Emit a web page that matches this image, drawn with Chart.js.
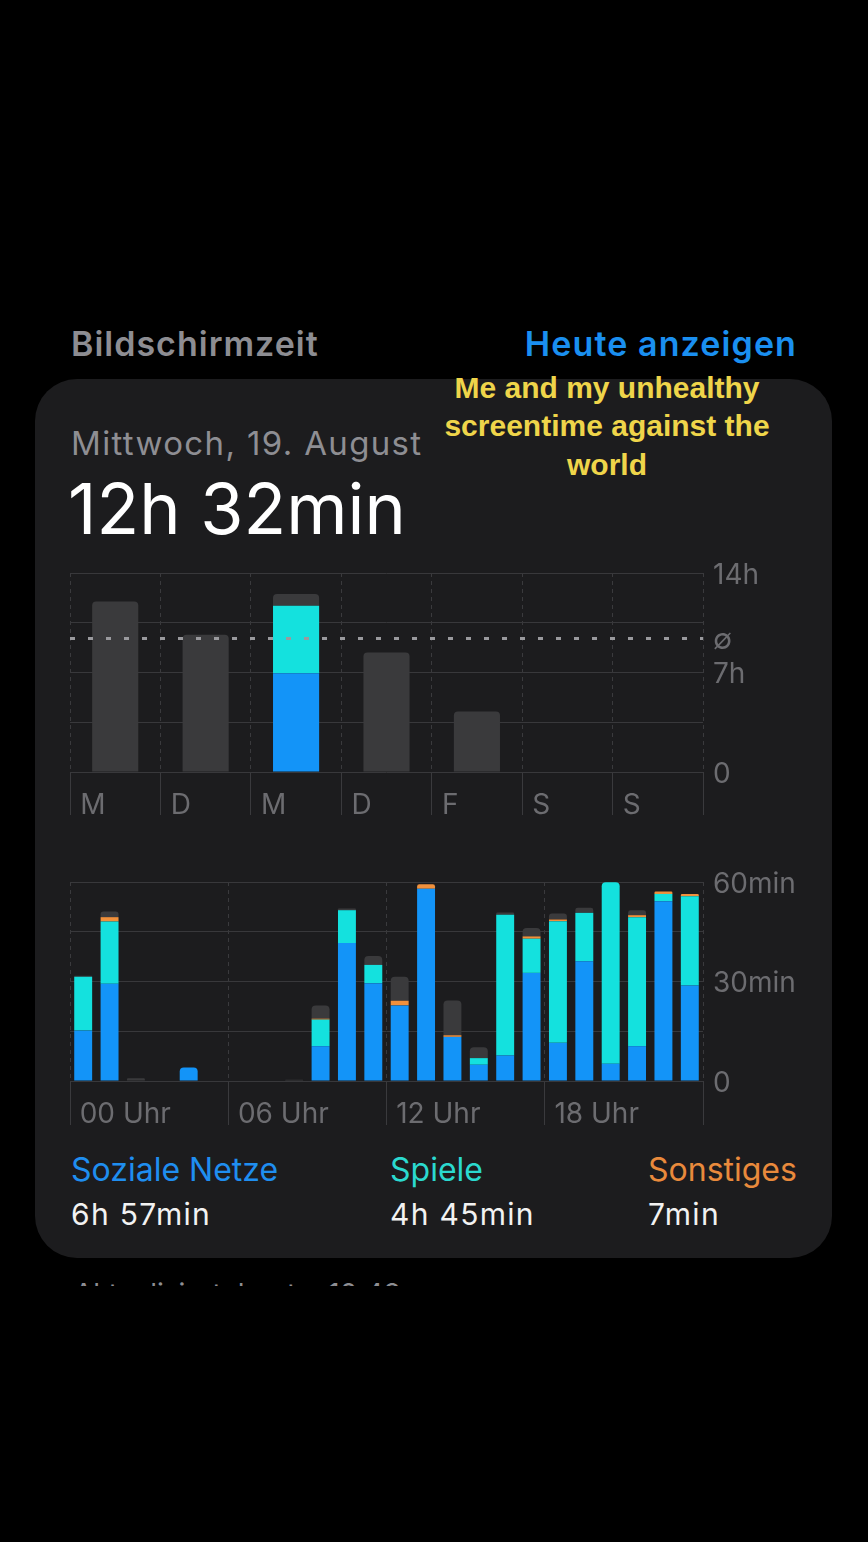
<!DOCTYPE html>
<html><head><meta charset="utf-8">
<script src="https://cdn.jsdelivr.net/npm/chart.js@4.4.1/dist/chart.umd.min.js"></script>
<style>
html,body{margin:0;padding:0;background:#000;width:868px;height:1542px;overflow:hidden;font-family:Inter,'DejaVu Sans',sans-serif;}
.t{position:absolute;white-space:nowrap;line-height:1;}
#card{position:absolute;left:35px;top:379px;width:797px;height:879px;background:#1c1c1e;border-radius:42px;}
canvas{position:absolute;}
#clip{position:absolute;left:74px;top:1280px;width:400px;height:6px;overflow:hidden;}
</style></head>
<body>
<div class="t" style="left:71px;top:326.5px;font-size:34px;font-weight:600;letter-spacing:1px;color:#8d8d92;">Bildschirmzeit</div>
<div class="t" style="right:71px;top:326.5px;font-size:34px;font-weight:600;letter-spacing:1.1px;color:#1a8ff0;">Heute anzeigen</div>
<div id="card"></div>
<div class="t" style="left:71px;top:426.5px;font-size:33px;letter-spacing:1.35px;color:#8e8e93;">Mittwoch, 19. August</div>
<div class="t" style="left:68px;top:474px;font-size:70px;color:#ffffff;">12h 32min</div>
<div class="t" style="left:407px;width:400px;text-align:center;top:369px;font-family:'Liberation Sans',Arial,sans-serif;font-weight:700;font-size:30px;line-height:38.3px;color:#efd54a;">Me and my unhealthy<br>screentime against the<br>world</div>

<canvas id="week" width="760" height="270" style="left:60px;top:555px;"></canvas>
<canvas id="day" width="760" height="270" style="left:60px;top:865px;"></canvas>

<div class="t" style="left:71px;top:1154px;font-size:32px;color:#1f8ef0;">Soziale Netze</div>
<div class="t" style="left:71px;top:1199px;font-size:30px;letter-spacing:1.3px;color:#f2f2f2;">6h 57min</div>
<div class="t" style="left:390px;top:1154px;font-size:32px;color:#2bd9cf;">Spiele</div>
<div class="t" style="left:390px;top:1199px;font-size:30px;letter-spacing:1.3px;color:#f2f2f2;">4h 45min</div>
<div class="t" style="left:648px;top:1154px;font-size:32px;color:#e98a3c;">Sonstiges</div>
<div class="t" style="left:648px;top:1199px;font-size:30px;letter-spacing:1.3px;color:#f2f2f2;">7min</div>
<div id="clip"><div class="t" style="left:0;top:0px;font-size:28px;color:#8e8e93;">Aktualisiert: heute, 10:48</div></div>

<script>
// ---- weekly data (hours) ----
const dayLabels = ['M','D','M','D','F','S','S'];
const daySocial = [0, 0, 6.95, 0, 0, 0, 0];
const dayGames  = [0, 0, 4.75, 0, 0, 0, 0];
const dayOther  = [12.0, 9.65, 0.83, 8.4, 4.25, 0, 0];
const dayAverage = 9.45;
const dayTicks = [0, 3.5, 7, 10.5, 14];
const dayTickLabels = {0:'0', 7:'7h', 14:'14h'};

// ---- hourly data (minutes), Wednesday ----
const hourLabels = ['00 Uhr','','','','','','06 Uhr','','','','','','12 Uhr','','','','','','18 Uhr','','','','',''];
const hourSocial = [15.2,29.3,0,0,4.1,0,0,0,0,10.5,41.6,29.5,22.8,58.0,13.3,4.9,7.7,32.6,11.5,36.1,5.2,10.5,54.2,28.8];
const hourGames  = [16.2,18.8,0,0,0,0,0,0,0,8.0,9.9,5.5,0,0,0,2.0,42.4,10.3,36.7,14.6,54.7,38.9,2.2,26.9];
const hourMisc   = [0,1.3,0,0,0,0,0,0,0,0.3,0,0,1.4,1.3,0.5,0,0,0.7,0.5,0,0,0.6,0.7,0.7];
const hourOther  = [0.3,1.7,0.8,0,0,0,0,0,0.4,4.0,0.5,2.7,7.2,0,10.5,3.3,0.7,2.5,1.8,1.5,0,1.5,0,0];
const hourTickLabels = {0:'0', 30:'30min', 60:'60min'};

const BLUE='#1394f8', CYAN='#14e1de', ORANGE='#f0903c', GREY='#3a3a3c';
const GRIDH='#38383b', GRIDV='#3a3a3d', LABEL='#6c6c70';
Chart.defaults.font.family = "Inter, 'DejaVu Sans', sans-serif";

function topRadius(r){
  return ctx => {
    const ds = ctx.chart.data.datasets, i = ctx.dataIndex;
    for (let k = ctx.datasetIndex + 1; k < ds.length; k++) { if (ds[k].data[i] > 0) return 0; }
    return r;
  };
}
function fixY(w){ return s => { s.width = w; s.paddingTop = 0; s.paddingBottom = 0; }; }
function fixX(h){ return s => { s.height = h; s.paddingLeft = 0; s.paddingRight = 0; }; }

const avgLinePlugin = {
  id:'avgLine',
  afterDatasetsDraw(chart){
    const {ctx, chartArea:a, scales:{y}} = chart;
    const py = Math.round(y.getPixelForValue(dayAverage)) + 0.5;
    ctx.save();
    ctx.strokeStyle = '#9a9a9e'; ctx.lineWidth = 3; ctx.setLineDash([5,13]);
    ctx.beginPath(); ctx.moveTo(a.left, py); ctx.lineTo(a.right, py); ctx.stroke();
    ctx.restore();
  }
};

new Chart(document.getElementById('week'), {
  type:'bar',
  data:{labels:dayLabels, datasets:[
    {label:'Soziale Netze', data:daySocial, backgroundColor:BLUE},
    {label:'Spiele', data:dayGames, backgroundColor:CYAN},
    {label:'Andere', data:dayOther, backgroundColor:GREY}
  ]},
  options:{
    responsive:false, animation:false, devicePixelRatio:1,
    layout:{padding:{left:10, top:18, right:0, bottom:0}},
    datasets:{bar:{barPercentage:0.51, categoryPercentage:1, borderRadius:topRadius(4), borderSkipped:'start'}},
    plugins:{legend:{display:false}, tooltip:{enabled:false}},
    scales:{
      x:{stacked:true, offset:true,
         grid:{color:GRIDV, tickLength:43, offset:true, lineWidth:1},
         border:{display:false, dash:[4,4]},
         ticks:{align:'start', labelOffset:-35, padding:-26, color:LABEL, font:{size:28}, maxRotation:0, autoSkip:false},
         afterFit:fixX(53)},
      y:{stacked:true, position:'right', min:0, max:14,
         afterBuildTicks:s=>{ s.ticks = dayTicks.concat([dayAverage]).sort((a,b)=>a-b).map(v=>({value:v})); },
         grid:{color:c=> (c.tick && c.tick.value===dayAverage) ? 'rgba(0,0,0,0)' : GRIDH, drawTicks:false},
         border:{display:false},
         ticks:{padding:10, labelOffset:2.5, color:LABEL, font:{size:28}, autoSkip:false,
                callback:v=> v===dayAverage ? '\u2205' : (dayTickLabels[v] || '')},
         afterFit:fixY(117)}
    }
  },
  plugins:[avgLinePlugin]
});

new Chart(document.getElementById('day'), {
  type:'bar',
  data:{labels:hourLabels, datasets:[
    {label:'Soziale Netze', data:hourSocial, backgroundColor:BLUE},
    {label:'Spiele', data:hourGames, backgroundColor:CYAN},
    {label:'Sonstiges', data:hourMisc, backgroundColor:ORANGE},
    {label:'Andere', data:hourOther, backgroundColor:GREY}
  ]},
  options:{
    responsive:false, animation:false, devicePixelRatio:1,
    layout:{padding:{left:10, top:17, right:0, bottom:0}},
    datasets:{bar:{barPercentage:0.68, categoryPercentage:1, borderRadius:topRadius(4), borderSkipped:'start'}},
    plugins:{legend:{display:false}, tooltip:{enabled:false}},
    scales:{
      x:{stacked:true, offset:true,
         grid:{color:c=> (c.type==='scale' || c.index % 6 === 0) ? GRIDV : 'rgba(0,0,0,0)', tickLength:44, offset:true, lineWidth:1},
         border:{display:false, dash:[4,4]},
         ticks:{align:'start', labelOffset:-3.5, padding:-27, color:LABEL, font:{size:28}, maxRotation:0, autoSkip:false},
         afterFit:fixX(54)},
      y:{stacked:true, position:'right', min:0, max:60,
         ticks:{stepSize:15, padding:10, labelOffset:2.5, color:LABEL, font:{size:28}, autoSkip:false,
                callback:v=> hourTickLabels[v] || ''},
         grid:{color:GRIDH, drawTicks:false},
         border:{display:false},
         afterFit:fixY(117)}
    }
  }
});
</script>
</body></html>
